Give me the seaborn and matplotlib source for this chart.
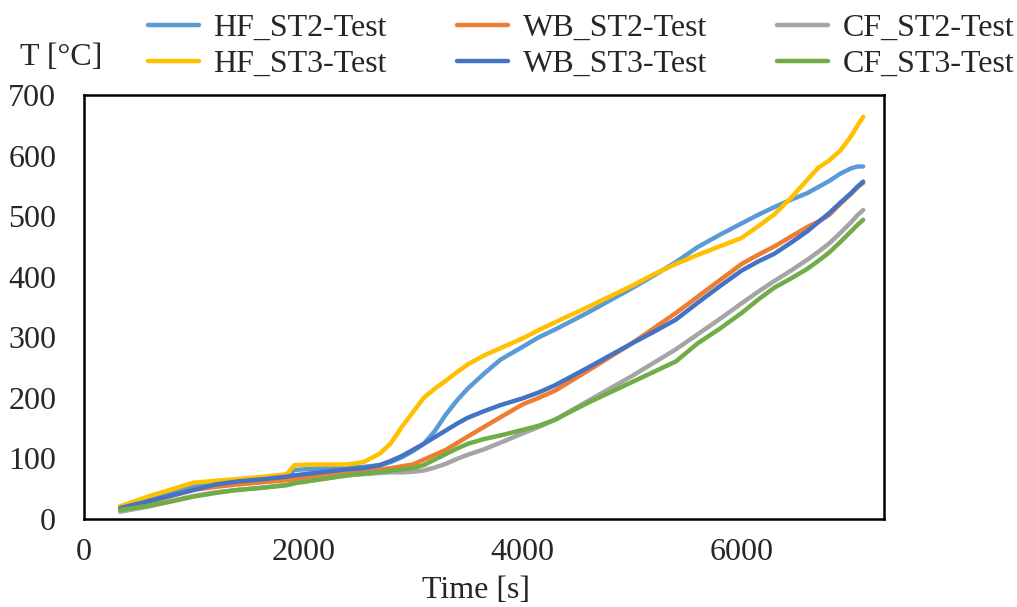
import numpy as np
import pandas as pd
import matplotlib
matplotlib.use("Agg")
import matplotlib.pyplot as plt
from matplotlib.ticker import MultipleLocator
import seaborn as sns

# ---- data ----
time_s = [330, 600, 800, 1000, 1200, 1400, 1650, 1850, 1920, 2100, 2400, 2550,
          2700, 2800, 2900, 3000, 3100, 3200, 3300, 3400, 3500, 3650, 3800, 4000,
          4150, 4300, 4600, 5000, 5200, 5400, 5600, 5800, 6000, 6150, 6300, 6450,
          6600, 6700, 6800, 6900, 7000, 7060, 7110]

hf_st2 = [19, 34, 45, 55, 60, 63, 67, 70, 81, 83, 85, 86,
          89, 94, 102, 112, 124, 145, 172, 195, 215, 240, 263, 284,
          300, 313, 341, 381, 402, 424, 449, 469, 488, 502, 515, 527,
          538, 548, 558, 570, 579, 582, 582]
hf_st3 = [21, 38, 49, 60, 63, 66, 70, 74, 89, 90, 90, 94,
          108, 125, 152, 176, 200, 215, 228, 242, 255, 270, 282, 298,
          312, 325, 350, 385, 404, 421, 436, 450, 464, 483, 503, 530,
          560, 580, 592, 608, 632, 650, 664]
wb_st2 = [16, 28, 38, 48, 53, 57, 61, 64, 66, 71, 78, 80,
          82, 84, 87, 90, 98, 106, 114, 125, 136, 152, 168, 189,
          200, 212, 245, 290, 315, 340, 367, 394, 421, 436, 450, 466,
          482, 491, 502, 520, 537, 548, 555]
wb_st3 = [18, 30, 39, 48, 57, 62, 66, 70, 72, 76, 82, 84,
          89, 96, 104, 114, 124, 135, 146, 157, 167, 178, 188, 199,
          209, 221, 250, 290, 309, 329, 357, 384, 410, 425, 438, 456,
          475, 490, 505, 522, 538, 549, 557]
cf_st2 = [12, 21, 30, 38, 44, 48, 52, 56, 59, 64, 72, 74,
          76, 77, 77, 78, 80, 85, 91, 99, 106, 115, 126, 141,
          152, 164, 195, 236, 258, 280, 305, 330, 356, 375, 393, 410,
          428, 441, 455, 472, 490, 502, 510]
cf_st3 = [15, 22, 29, 37, 43, 48, 52, 56, 59, 64, 72, 75,
          78, 80, 82, 84, 89, 98, 107, 116, 124, 132, 138, 147,
          154, 164, 192, 226, 243, 260, 290, 314, 340, 362, 382, 397,
          413, 426, 440, 457, 475, 486, 494]

series_names = ["HF_ST2-Test", "HF_ST3-Test", "WB_ST2-Test",
                "WB_ST3-Test", "CF_ST2-Test", "CF_ST3-Test"]
series_values = [hf_st2, hf_st3, wb_st2, wb_st3, cf_st2, cf_st3]
colors = ["#5B9BD5", "#FFC000", "#ED7D31", "#4472C4", "#A5A5A5", "#70AD47"]

x_ticks = [0, 2000, 4000, 6000]
y_ticks = [0, 100, 200, 300, 400, 500, 600, 700]

df = pd.concat([pd.DataFrame({"t": time_s, "T": v, "series": n})
                for n, v in zip(series_names, series_values)], ignore_index=True)

# ---- style ----
sns.set_theme(style="white")
plt.rcParams["font.family"] = ["Liberation Serif", "DejaVu Serif"]
FS = 23

fig = plt.figure(figsize=(10.17, 6.07), dpi=100)
ax = fig.add_axes([84 / 1017, 1 - 519 / 607, 800 / 1017, 424 / 607])

sns.lineplot(data=df, x="t", y="T", hue="series", hue_order=series_names,
             palette=colors, linewidth=3.2, sort=False, estimator=None,
             legend=False, ax=ax)
for line in ax.get_lines():
    line.set_solid_joinstyle("round")
    line.set_solid_capstyle("round")

ax.set_xlim(0, 7300)
ax.set_ylim(0, 700)
ax.set_xticks(x_ticks)
ax.set_yticks(y_ticks)
ax.xaxis.set_minor_locator(MultipleLocator(400))
ax.yaxis.set_minor_locator(MultipleLocator(20))
ax.tick_params(which="both", direction="in", color="black", width=1.5)
ax.tick_params(which="major", length=6)
ax.tick_params(which="minor", length=4)
ax.tick_params(axis="x", which="major", labelsize=FS, pad=14)
ax.tick_params(axis="y", which="major", labelsize=FS, pad=20)
for s in ax.spines.values():
    s.set_color("black")
    s.set_linewidth(1.8)

ax.set_xlabel("Time [s]", fontsize=FS, va="top")
ax.xaxis.set_label_coords((476 - 84) / 800, -(576 - 519) / 424)
ax.set_ylabel("T [°C]", fontsize=FS, rotation=0, ha="center", va="center")
ax.yaxis.set_label_coords((61 - 84) / 800, (519 - 57) / 424)

handles = ax.get_lines()[:6]
fig.legend(handles, series_names, ncol=3, loc="upper left",
           bbox_to_anchor=(132 / 1017, 1.004), frameon=False, fontsize=FS,
           handlelength=1.6, handletextpad=0.45, columnspacing=2.2,
           labelspacing=0.22, borderaxespad=0.1)

fig.savefig("out.png", dpi=100, facecolor="white")
